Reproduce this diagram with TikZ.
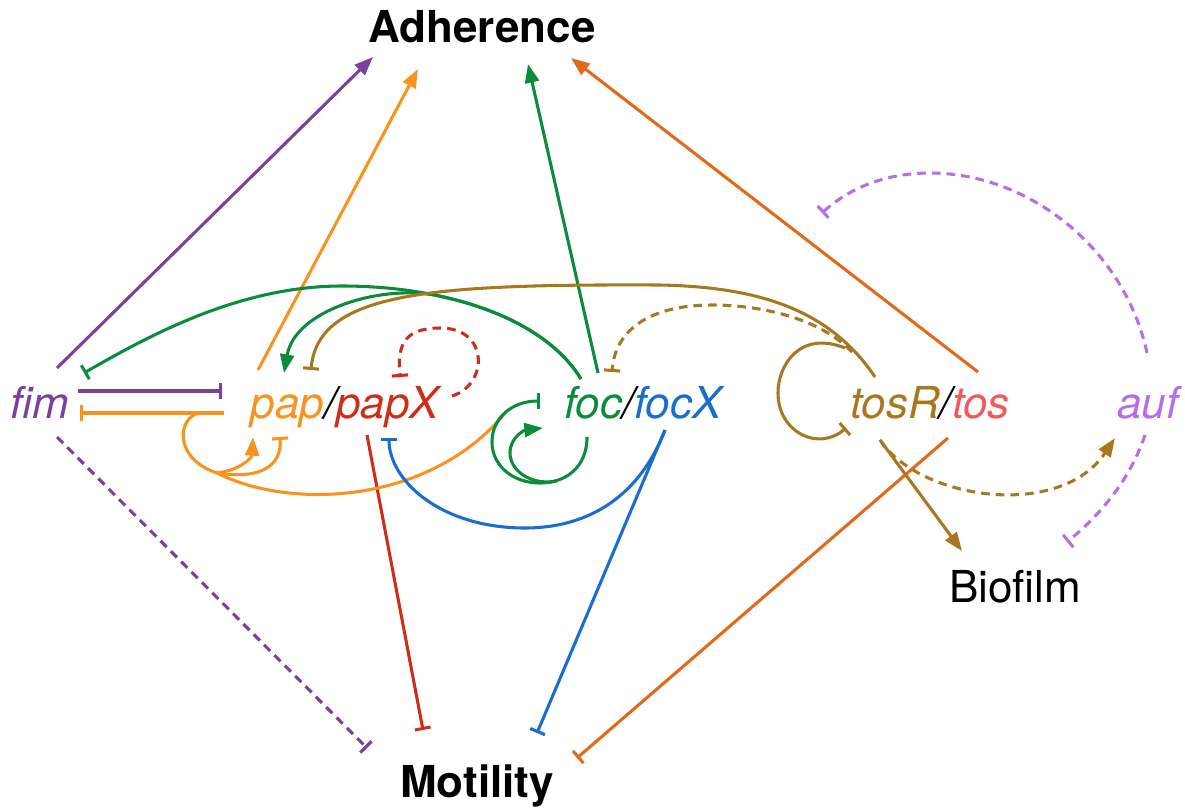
\documentclass[tikz,border=0pt]{standalone}
\usepackage{fontspec}
\setmainfont{TeX Gyre Heros}
\usetikzlibrary{arrows.meta}
\definecolor{fimC}{RGB}{123,63,160}
\definecolor{papC}{RGB}{247,147,30}
\definecolor{papXC}{RGB}{205,45,25}
\definecolor{focC}{RGB}{10,140,60}
\definecolor{focXC}{RGB}{25,110,205}
\definecolor{tosRC}{RGB}{168,120,30}
\definecolor{tosC}{RGB}{240,90,90}
\definecolor{tosAC}{RGB}{225,105,25}
\definecolor{aufC}{RGB}{180,110,235}
\begin{document}
\begin{tikzpicture}[x=0.75pt,y=-0.75pt,line width=2.3pt,
  act/.style={-{Triangle[length=14pt,width=10.5pt]}},
  inh/.style={-{Bar[width=12pt]}},
  dsh/.style={dash pattern=on 6.5pt off 4.5pt},
  gene/.style={inner sep=0pt,anchor=base,font=\fontsize{33}{40}\selectfont\itshape},
  phen/.style={inner sep=0pt,anchor=base,font=\fontsize{33}{40}\selectfont\bfseries},
  plain/.style={inner sep=0pt,anchor=base,font=\fontsize{33}{40}\selectfont}]
\path[use as bounding box] (0,0) rectangle (1185,810);

% labels
\node[phen] (adh) at (482,42) {Adherence};
\node[phen] (mot) at (477,797) {Motility};
\node[gene,text=fimC] (fim) at (40,418) {fim};
\node[gene] (pap) at (345,418) {\textcolor{papC}{pap}/\textcolor{papXC}{papX}};
\node[gene] (foc) at (643,418) {\textcolor{focC}{foc}/\textcolor{focXC}{focX}};
\node[gene] (tos) at (930,418) {\textcolor{tosRC}{tosR}/\textcolor{tosC}{tos}};
\node[gene,text=aufC] (auf) at (1148,418) {auf};
\node[plain] (bio) at (1015,602) {Biofilm};

% end points of the connectors
\coordinate (adhA) at (373,57);
\coordinate (adhB) at (418,69);
\coordinate (adhC) at (528,64);
\coordinate (adhD) at (571,58);
\coordinate (motA) at (367,748);
\coordinate (motB) at (423,730);
\coordinate (motC) at (537,733);
\coordinate (motD) at (577,758);
\coordinate (fimNE) at (57,368);
\coordinate (fimSE) at (57,437);
\coordinate (fimR1) at (78,391);
\coordinate (fimR2) at (80,413);
\coordinate (fimBar) at (84,373);
\coordinate (papL1) at (222,391);
\coordinate (papL2) at (224,413);
\coordinate (papLoop) at (200,413);
\coordinate (papFork) at (217,473);
\coordinate (papUp) at (258,370);
\coordinate (papArr) at (284,373);
\coordinate (papBar) at (311,370);
\coordinate (papB1) at (253,437);
\coordinate (papB2) at (280,437);
\coordinate (papXB) at (367,435);
\coordinate (papXBar) at (389,438);
\coordinate (papXs) at (452,396);
\coordinate (papXe) at (400,377);
\coordinate (focT1) at (581,379);
\coordinate (focSplit) at (434.5,295.1);
\coordinate (focT2) at (598,373);
\coordinate (focBarT) at (612,372);
\coordinate (focB) at (587,437);
\coordinate (focLoopBar) at (540,401);
\coordinate (focLoopIn) at (557,481);
\coordinate (focLoopArr) at (543,428);
\coordinate (focOr) at (506,412);
\coordinate (focXB) at (665,430);
\coordinate (tosT) at (875,377);
\coordinate (tosTd) at (852,352);
\coordinate (tosLoop) at (845,348);
\coordinate (tosLoopBar) at (846,428);
\coordinate (tosUp) at (978,372);
\coordinate (tosB) at (880,440);
\coordinate (tosB2) at (948,438);
\coordinate (bioT) at (962,551);
\coordinate (aufArr) at (1115,438);
\coordinate (aufT) at (1147,353);
\coordinate (aufB) at (1145,435);
\coordinate (aufBar1) at (822,213);
\coordinate (aufBar2) at (1067,542);

% to Adherence
\draw[fimC,act] (fimNE) -- (adhA);
\draw[papC,act] (papUp) -- (adhB);
\draw[focC,act] (focT2) -- (adhC);
\draw[tosAC,act] (tosUp) -- (adhD);

% to Motility
\draw[fimC,inh,dsh] (fimSE) -- (motA);
\draw[papXC,inh] (papXB) -- (motB);
\draw[focXC,inh] (focXB) -- (motC);
\draw[tosAC,inh] (tosB2) -- (motD);

% fim and pap repress each other
\draw[fimC,inh] (fimR1) -- (papL1);
\draw[papC,inh] (papL2) -- (fimR2);

% pap feedback loops and the link to foc
\draw[papC] (papLoop) .. controls (178,416) and (172,458) .. (papFork);
\draw[papC,act] (papFork) .. controls (240,470) and (252,458) .. (papB1);
\draw[papC,inh] (papFork) .. controls (262,480) and (282,465) .. (papB2);
\draw[papC] (papFork) .. controls (290,510) and (430,505) .. (focOr);

% papX self repression
\draw[papXC,inh,dsh] (papXs) .. controls (488,385) and (490,328) .. (440,328)
  .. controls (400,328) and (398,350) .. (papXe);

% foc represses fim and activates pap (shared trunk)
\draw[focC,inh] (focT1) .. controls (545,320) and (450,286) .. (342,286)
  .. controls (240,286) and (150,335) .. (fimBar);
\draw[focC,act] (focT1) .. controls (555.5,337.1) and (501.6,308.5) .. (focSplit)
  .. controls (380,285) and (295,310) .. (papArr);

% foc self loops
\draw[focC,inh] (focB) .. controls (587,468) and (565,483) .. (540,483)
  .. controls (512,483) and (492,465) .. (492,442)
  .. controls (492,418) and (512,401) .. (focLoopBar);
\draw[focC,act] (focLoopIn) .. controls (530,486) and (510,470) .. (510,453)
  .. controls (510,437) and (525,430) .. (focLoopArr);

% focX represses papX
\draw[focXC,inh] (focXB) .. controls (640,495) and (590,528) .. (525,528)
  .. controls (440,528) and (389,480) .. (papXBar);

% tosR links
\draw[tosRC,inh] (tosT) .. controls (830,310) and (760,287) .. (660,285)
  .. controls (430,284) and (318,292) .. (papBar);
\draw[tosRC,inh,dsh] (tosTd) .. controls (820,318) and (760,305) .. (712,305)
  .. controls (650,305) and (615,330) .. (focBarT);
\draw[tosRC,inh] (tosLoop) .. controls (800,330) and (778,365) .. (778,393)
  .. controls (778,432) and (818,452) .. (tosLoopBar);
\draw[tosRC,act] (tosB) -- (bioT);
\draw[tosRC,act,dsh] (tosB) .. controls (920,500) and (1060,520) .. (aufArr);

% auf links
\draw[aufC,inh,dsh] (aufT) .. controls (1125,250) and (1030,173) .. (930,173)
  .. controls (880,173) and (845,192) .. (aufBar1);
\draw[aufC,inh,dsh] (aufB) .. controls (1130,480) and (1100,515) .. (aufBar2);
\end{tikzpicture}
\end{document}
